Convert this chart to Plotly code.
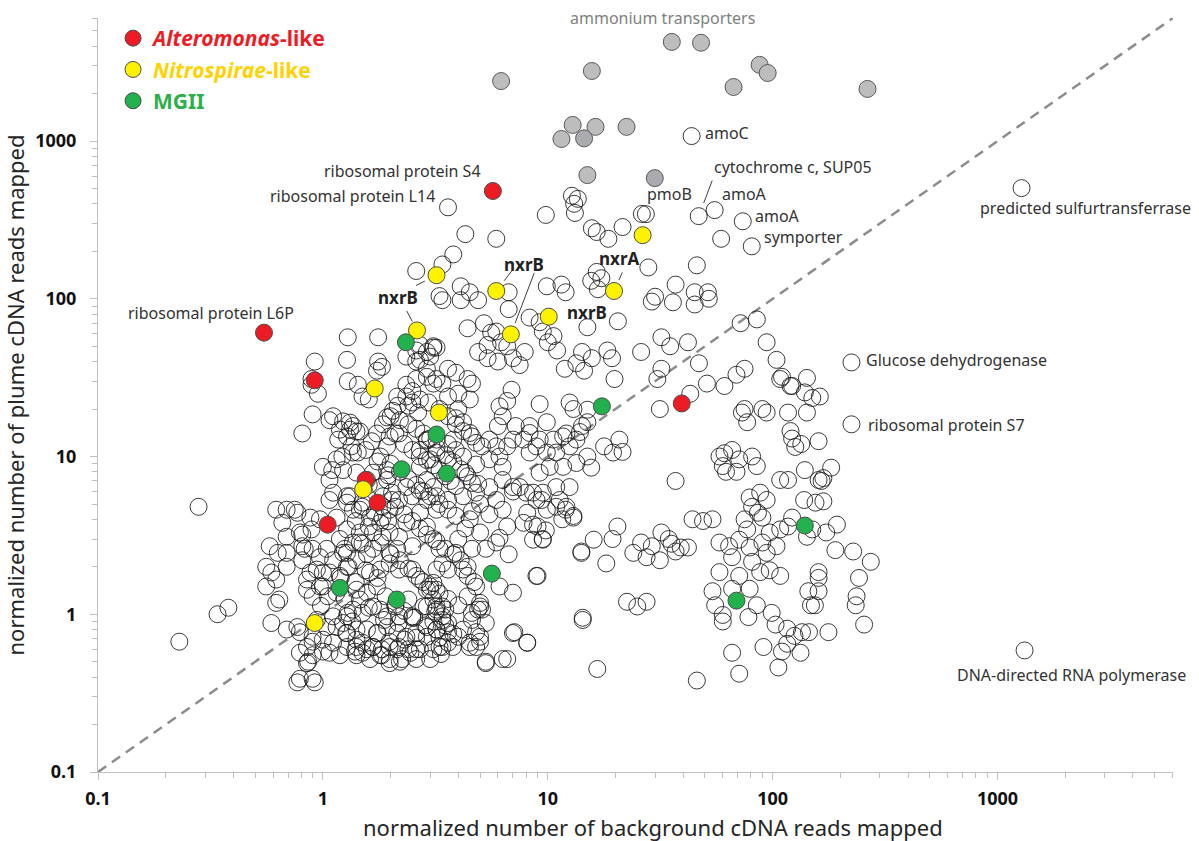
import numpy as np
import plotly.graph_objects as go

# ---------------- data (normalized read counts) ----------------
# open circles: genes not highlighted (background x, plume y)
bg_top = [(12.8,450),(13.6,430),(13.1,400),(9.8,340),(13.2,350),(4.3,257),(5.9,240),(15.7,280),
          (16.5,265),(18.6,240),(21.5,285),(26.2,345),(59,240),(3.8,191),(3.4,165),(2.6,150),
          (16.5,148),(17.3,135),(28,158),(46,163),(37,123),(45,110),(51.5,110),(30,103),(9.9,120),
          (11.5,123),(12,110),(4.1,120),(4.5,110),(3.3,104),(6.7,110),(15.6,130),(16.7,115)]

bg_mid = [(3.4,98),(4.1,98),(4.9,98),(6.7,86),(8.3,76),(9.2,71),(15,66),(9.5,62),(10.6,58),(10,53),
          (11,47),(20.5,72),(29,96),(36,95),(45,92),(52,100),(3.1,50),(2.6,47),(2.7,41),(2.9,36),
          (11.9,36),(14.5,35),(15.7,42),(18.4,47),(19.3,42),(19.8,31),(26,46),(32,57),(35,50),(42,53),
          (30.7,31),(32,36),(47,39),(51,29),(61,28),(69,33),(75,36),(85,74),(72,70),(94,53),(104,41),
          (110,32),(120,28),(43,25),(31.5,20),(75,20),(77,16.5),(90,20),(94,19),(73,19),(117,19),
          (108,31),(122,28),(61,10.5),(66,11),(71,9.6),(81,10),(85,8.7),(122,13),(126,11.5),(108,7.1),
          (37,7),(17.8,11.6),(20.8,12.8),(21.5,10.7),(19.5,10.6),(15.6,8.5),(12.1,14),(13.9,14.3),
          (15,16.5),(13,20),(8.6,5.9),(9.4,5.3),(12.1,4.8),(13,4.2),(11.6,4.0),(11.3,5.3),(8.1,4.4),
          (9,3.6),(9.8,3.4),(8.6,2.97),(9.5,2.97),(19.4,3),(14.1,2.5),(9,1.75),(26,2.85),(29,2.7),
          (32,3.3),(34.5,3),(35.5,2.8),(39,2.65),(42,2.65),(31.5,2.2),(37,2.5),(44,4),(49,3.9),(54,4),
          (58,2.85),(64,2.7),(71,2.97),(79,2.65),(66,2.3),(58,10),(60,8.7),(69,8),(62,8),(79,5.5),
          (88,5.9),(94,5.3),(81,4.8),(86,4.4),(90,4.1),(97,3.3),(108,3.45),(117,3.6),(122,4.1),(75,4),
          (77,3.45),(90,2.85),(94,2.45),(104,2.7),(81,2.15),(120,14.5),(117,7.1),(58,1.85),(71,1.75),
          (88,1.85),(97,1.9),(108,1.75),(66,1.45),(54,1.4),(79,1.45),(18.2,2.1),(24,2.45),(27.5,2.3),
          (16,2.97),(20.4,3.6)]

bg_right = [(142,31.5),(139,25.5),(150,23.5),(162,24),(142,19),(134,12),(160,12.5),(139,8.2),(160,7.1),
            (182,8.5),(165,7),(168,7.3),(138,5.3),(155,5.1),(168,5.2),(193,3.7),(173,3.3),(150,3.45),
            (142,3.1),(190,2.55),(228,2.5),(273,2.15),(242,1.7),(160,1.85),(160,1.7),(144,1.4),(160,1.4),
            (236,1.3),(22.5,1.2),(25,1.12),(27.5,1.2),(55.5,1.14),(60,0.99),(60,0.9),(78,0.96),(85,1.14),
            (99,1.02),(103,0.86),(116,0.81),(125,0.73),(135,0.77),(145,0.77),(177,0.77),(116,0.65),
            (91,0.62),(110,0.58),(133,0.57),(106,0.46),(66,0.57),(71,0.42),(46,0.38),(148,1.14),
            (154,1.14),(234,1.14),(255,0.86)]

bg_lowleft = [(0.23,0.67),(0.34,1.0),(0.38,1.1),(0.59,0.88),(0.62,1.18),(0.79,0.77),(0.94,0.92),
              (0.9,0.67),(0.86,0.5),(0.77,0.37),(0.92,0.37),(1.0,0.58),(0.98,1.13),(1.15,0.83),
              (1.29,1.02),(1.27,0.76),(1.41,0.69),(1.57,0.6),(1.67,0.62),(1.83,0.6),(1.98,0.67),
              (2.14,0.6),(2.31,0.69),(2.17,0.88),(1.87,0.92),(2.1,1.12),(2.5,0.95),(2.8,1.12),(3.16,1.04),
              (3.4,0.92),(3.6,0.77),(3.3,0.71),(3.4,0.62),(2.9,0.83),(2.6,0.71),(2.6,0.6),(1.98,0.52),
              (2.2,0.5),(1.83,0.55),(1.5,0.57),(1.39,0.58),(2.45,0.57),(3.35,0.56),(3.78,0.62),(4.5,0.62),
              (5.0,0.67),(4.8,0.77),(4.9,1.07),(5.3,0.5),(6.3,0.52),(7.1,0.77),(8.1,0.66),(14.3,0.92),
              (16.6,0.45),(1.75,0.76),(3.4,1.12),(4.0,1.14),(5.0,1.12)]

bg_left = [(0.28,4.8),(0.62,4.6),(0.66,3.8),(0.75,4.6),(0.58,2.7),(0.63,2.45),(0.56,2.0),(0.59,1.84),
           (0.62,1.66),(0.56,1.5),(0.81,3.2),(0.89,3.45),(0.97,4.0),(0.89,31),(1.07,17),(1.36,15.6),
           (1.46,14.4),(1.98,13.4),(1.93,17.7),(1.15,9.6),(1.36,10.6),(1.23,8.2),(1.07,7.1),(1.41,7.9),
           (1.57,7.1),(1.93,7.1),(1.32,5.6),(1.36,4.6),(1.5,5.1),(1.84,4.8),(1.84,4.1),(2.03,5.3),
           (0.81,2.7),(0.97,2.3),(1.04,2.6),(1.28,2.45),(1.46,2.85),(1.84,3.1),(1.98,2.45),(0.94,1.92),
           (1.19,1.75),(0.85,1.66),(0.97,1.5),(1.15,1.37)]

bg_dense1 = [(1.29,57),(1.76,57),(0.92,40),(1.28,41),(1.76,40),(1.74,35),(1.83,37),(0.89,28.5),(0.95,25),
             (1.29,30),(1.43,28.5),(1.5,24),(1.6,23),(0.9,18.5),(0.81,14),(1.11,18),(1.23,16.7),
             (1.32,16.4),(1.32,14.8),(1.19,14.8),(1.41,14.4),(1.28,13.4),(1.17,12.8),(1.74,14),(2.1,14),
             (2.18,14),(2.0,18),(2.15,21),(2.14,24),(2.35,24),(2.5,22),(2.7,23),(2.5,26),(2.35,28.5),
             (2.6,31),(2.9,32),(3.1,29),(2.9,46),(3.2,49),(3.0,43),(2.6,40),(2.35,43),(2.7,51),(1.0,8.6),
             (1.1,8.2),(1.22,10),(1.43,10.6),(1.34,11.6),(1.8,10),(1.93,11.6),(1.67,7.9),(1.93,8.2),
             (2.7,8.6),(3.0,9.6),(3.2,10.6),(2.9,12.8),(3.2,12.8),(2.7,11),(2.9,7.1),(3.1,6.4),(2.7,6.1),
             (2.35,6.4),(1.11,5.9),(1.28,5.6),(1.8,6.4),(2.03,5.9)]

bg_dense2 = [(6.9,26.5),(6.6,22.5),(6.1,20.8),(6.3,18),(6.0,15.6),(7.2,15.6),(8.3,15.6),(9.2,21.5),
             (9.9,16.5),(12.5,22),(15,19.8),(11.7,13.4),(10.6,12.8),(9.2,12.8),(8.3,14.1),(7.8,12.8),
             (8.9,11.6),(8.3,10.6),(9.9,10.6),(10.9,10.6),(12.5,11.6),(13.4,12.8),(14.2,15.6),(15,10),
             (7.0,12.8),(6.6,11.6),(5.9,11.6),(5.5,12.8),(5.1,11.6),(4.8,12.2),(4.6,13.4),(6.1,10),
             (6.3,8.6),(5.5,9.6),(4.8,8.9),(4.3,7.9),(4.6,6.8),(5.5,6.4),(6.3,7.1),(7.0,6.4),(7.5,6.4),
             (8.0,5.9),(9.2,7.9),(10.2,8.6),(11.7,8.6),(13.4,9.1),(12.5,6.4),(9.5,5.9),(10.9,6.4),
             (3.1,49),(3.2,31),(3.4,29),(3.6,36),(3.9,34),(3.6,24),(4.0,25),(4.4,31),(4.6,29),(4.5,23),
             (4.0,20),(3.9,17.5),(4.2,16.5),(4.5,14.1),(3.6,12),(3.9,11),(3.6,9.6),(4.2,10),
             (4.4,65),(5.2,70),(5.6,61),(5.9,62),(6.2,53),(6.6,50),(5.4,51),(4.9,46),(5.4,42),(6.0,40),
             (7.0,42),(7.5,38),(7.9,46),(13.4,39),(14.2,46)]

bg_dense3 = [(0.69,4.6),(0.77,4.4),(0.88,4.1),(0.79,3.3),(0.69,3.1),(0.83,2.6),(0.9,2.6),(0.81,2.2),
             (0.69,2.45),(0.69,2.0),(0.64,1.24),(0.69,0.8),(0.77,0.83),(0.88,1.84),(0.85,1.43),(0.9,1.29),
             (1.0,1.5),(1.0,1.84),(1.23,2.45),(1.11,2.2),(1.07,1.84),(1.28,2.0),(1.41,2.2),(1.57,2.4),
             (1.67,2.6),(1.8,2.85),(1.41,1.43),(1.46,1.24),(1.57,1.37),(1.74,1.5),(1.62,1.84),(1.8,1.92),
             (1.98,2.1),(2.18,1.92),(2.5,1.92),(2.7,1.66),(2.9,1.43),(3.2,1.43),(3.2,1.12),(2.9,1.12),
             (2.4,1.24),(2.5,0.97),(2.18,0.97),(1.93,0.97),(1.8,1.07),(1.67,1.12),(1.5,1.02),(1.36,1.07),
             (1.28,0.97),(1.23,0.88),(1.11,0.97),(1.04,0.83),(0.9,0.72),(0.85,0.62),(0.9,0.55),(0.79,0.57),
             (0.85,0.49),(0.79,0.39),(0.9,0.39),(1.0,0.69),(1.11,0.66),(1.28,0.76),(1.41,0.8),(1.57,0.8),
             (1.74,0.76),(1.93,0.83),(2.14,0.76),(2.35,0.72),(2.6,0.76),(2.9,0.72),(3.2,0.8),(1.28,0.62),
             (1.41,0.62),(1.5,0.66),(1.67,0.62),(1.8,0.55),(1.98,0.62),(2.18,0.62),(2.4,0.6),(2.7,0.6),
             (3.1,0.6),(1.07,0.57),(1.19,0.55),(1.41,0.55),(1.62,0.52),(1.98,0.49),(2.25,0.52),(2.6,0.52),
             (3.0,0.52),(1.07,5.3),(1.28,5.1),(1.46,4.6),(1.62,4.1),(1.8,3.8),(1.98,3.3),(2.18,3.1),
             (2.35,3.8),(2.7,4.4),(2.9,3.6),(3.1,3.0),(2.5,2.7),(2.14,2.6),(1.98,4.6),(2.18,5.3),(2.5,5.6),
             (2.9,5.3),(3.2,4.6),(1.15,4.1),(1.28,3.45),(1.46,3.3),(1.36,2.85),(1.67,3.3),(1.19,3.0)]

bg_dense4 = [(3.2,5.6),(3.6,5.3),(4.2,5.6),(4.8,5.9),(5.9,5.3),(6.3,4.6),(7.0,6.0),(8.9,5.3),(9.9,4.6),
             (10.9,4.8),(12,4.6),(13,4.1),(7.8,3.8),(8.6,3.7),(9.5,3.0),(6.6,3.6),(5.0,3.3),(4.5,4.0),
             (3.3,2.6),(3.9,2.45),(4.6,2.6),(5.3,2.6),(5.9,2.85),(6.7,2.4),(6.1,3.05),(4.2,1.92),(4.8,1.5),
             (3.6,1.92),(3.2,1.92),(3.4,2.1),(4.4,1.75),(6.1,1.5),(7.0,1.37),(8.9,1.75),(14.1,2.45),
             (14.3,0.95),(5.0,1.18),(4.6,1.02),(5.1,1.07),(4.6,0.92),(5.3,0.88),(5.0,0.72),(4.5,0.66),
             (4.0,0.72),(3.6,0.88),(3.5,1.07),(3.2,1.07),(3.4,0.97),(3.2,0.8),(3.3,0.62),(3.6,0.66),
             (4.8,0.62),(7.0,0.76),(8.1,0.66),(5.3,0.49),(6.6,0.52),(3.1,1.24),(3.0,1.43),(3.1,1.58)]

bg_core = [(2.2,17),(2.4,16),(2.6,15),(2.8,14),(3.0,13),(2.3,12),(2.5,11),(2.7,10),(2.9,9.5),(3.1,8.8),
           (3.3,8.2),(3.5,7.5),(3.7,7.0),(3.9,6.5),(2.0,9),(2.2,8),(2.4,7.2),(2.6,6.6),(2.8,6.0),(3.0,5.6),
           (3.3,5.0),(3.6,4.6),(3.9,4.2),(2.1,4.8),(2.3,4.3),(2.5,3.9),(2.7,3.5),(2.9,3.2),(3.2,2.9),
           (3.5,2.6),(3.8,2.4),(4.1,2.2),(4.4,2.0),(2.0,2.4),(2.2,2.2),(2.4,1.95),(2.6,1.75),(2.8,1.6),
           (3.0,1.5),(3.3,1.35),(3.6,1.25),(1.9,1.3),(2.1,1.15),(2.3,1.05),(2.55,0.95),(2.85,0.85),
           (3.1,0.9),(3.5,0.85),(3.8,0.75),(4.2,0.8),(4.4,1.3),(4.7,1.6),(4.0,3.0),(4.3,3.5),(4.6,4.5),
           (5.0,5.0),(5.5,4.3),(4.9,6.7),(4.4,7.5),(4.1,8.3),(3.8,9.2),(3.5,10.2),(3.2,11.4),(2.9,12.6),
           (3.8,12.8),(4.2,14.5),(3.9,16),(3.6,18),(3.3,20),(2.95,22),(2.65,19),(2.4,21),(2.05,19.5),
           (1.85,16),(1.65,12.5),(1.55,11),(1.75,9.3),(1.95,7.6),(1.6,6.6),(1.85,5.6),(1.5,4.8),(1.7,4.4),
           (1.95,3.9),(1.6,3.6),(1.4,3.9),(1.5,2.8),(1.25,2.6),(1.3,2.0),(1.55,1.9),(1.75,1.7),(1.2,1.7),
           (1.4,1.6),(1.05,1.3),(1.25,1.25),(1.6,1.1),(1.35,0.9)]

# labelled open circles
lab_names = ["ribosomal protein L14", "amoC", "cytochrome c, SUP05", "amoA", "amoA", "symporter",
             "pmoB", "predicted sulfurtransferrase", "Glucose dehydrogenase", "ribosomal protein S7",
             "DNA-directed RNA polymerase"]
lab_x = [3.6, 43.6, 46.9, 55.2, 73.6, 80.7, 27.3, 1278, 224, 224, 1318]
lab_y = [380, 1075, 334, 365, 310, 215, 344, 503, 39.5, 16, 0.59]

# ammonium transporters (grey filled)
amt_x = [6.2, 15.7, 35.6, 48, 87.5, 95, 67, 264, 12.9, 16.3, 22.4, 11.5, 14.5, 15, 29.9]
amt_y = [2400, 2780, 4250, 4200, 3040, 2700, 2200, 2140, 1265, 1230, 1230, 1030, 1040, 608, 582]
amt_fill = ["#BDBDBD"] * 12 + ["#A9ABAE", "#BDBDBD", "#A9ABAE"]

# Alteromonas-like (red)
alt_names = ["ribosomal protein S4", "ribosomal protein L6P", "", "", "", "", ""]
alt_x = [5.7, 0.547, 0.92, 1.55, 1.75, 1.05, 39.4]
alt_y = [482, 61, 30.4, 7.1, 5.1, 3.7, 21.7]

# Nitrospirae-like (yellow)
nit_names = ["", "nxrA", "nxrB", "", "nxrB", "", "nxrB", "", "", "", ""]
nit_x = [26.4, 19.7, 5.9, 3.2, 10.1, 6.85, 2.62, 1.70, 3.28, 1.51, 0.92]
nit_y = [253, 112, 112, 141, 77, 59.5, 63, 27, 19, 6.2, 0.88]

# MGII (green)
mg_x = [2.34, 3.2, 3.56, 2.24, 5.64, 1.19, 2.13, 17.4, 139, 69]
mg_y = [53, 13.8, 7.8, 8.3, 1.81, 1.47, 1.24, 20.8, 3.65, 1.22]

tick_vals = [0.1, 1, 10, 100, 1000]
tick_text = ["0.1", "1", "10", "100", "1000"]
LOG_RANGE = [-1, 3.78]

# ---------------- figure ----------------
bg_all = bg_top + bg_mid + bg_right + bg_lowleft + bg_left + bg_dense1 + bg_dense2 + bg_dense3 + bg_dense4 + bg_core
bg_x = [p[0] for p in bg_all] + lab_x
bg_y = [p[1] for p in bg_all] + lab_y

FONT = "Noto Sans"
fig = go.Figure()

# 1:1 line
lim = [10 ** LOG_RANGE[0], 10 ** LOG_RANGE[1]]
fig.add_trace(go.Scatter(x=lim, y=lim, mode="lines", showlegend=False, hoverinfo="skip",
                         line=dict(color="#8C8C8C", width=2.5, dash="10px,7px")))

fig.add_trace(go.Scatter(x=bg_x, y=bg_y, mode="markers", showlegend=False,
                         marker=dict(symbol="circle-open", size=17, color="rgba(25,25,25,0.85)",
                                     line=dict(width=1))))

fig.add_trace(go.Scatter(x=amt_x, y=amt_y, mode="markers", showlegend=False,
                         marker=dict(size=17, color=amt_fill, line=dict(color="#5A5A5A", width=1))))

def leg(txt, col, it=None):
    if it:
        return f"<span style='color:{col}'><b><i>{it}</i>{txt}</b></span>"
    return f"<span style='color:{col}'><b>{txt}</b></span>"

fig.add_trace(go.Scatter(x=alt_x, y=alt_y, mode="markers", legendgroup="a",
                         name=leg("-like", "#ED1C24", "Alteromonas"),
                         marker=dict(size=17, color="#ED1C24", line=dict(color="#4D4D4D", width=1))))
fig.add_trace(go.Scatter(x=nit_x, y=nit_y, mode="markers", legendgroup="b",
                         name=leg("-like", "#FFD200", "Nitrospirae"),
                         marker=dict(size=17, color="#FFF200", line=dict(color="#4D4D4D", width=1))))
fig.add_trace(go.Scatter(x=mg_x, y=mg_y, mode="markers", legendgroup="c",
                         name=leg("MGII", "#2DB04A"),
                         marker=dict(size=17, color="#22B14C", line=dict(color="#4D4D4D", width=1))))

ann = []
TXT = dict(family=FONT, size=16, color="#333333")
BTXT = dict(family=FONT, size=17, color="#222222", weight="bold")

def lbl(text, x, y, xs, ys, anchor="left", font=TXT):
    ann.append(dict(x=np.log10(x), y=np.log10(y), text=text, showarrow=False, xanchor=anchor,
                    yanchor="middle", xshift=xs, yshift=ys, font=font))

def line(x, y, ax, ay, so):
    ann.append(dict(x=np.log10(x), y=np.log10(y), text="", showarrow=True, arrowhead=0,
                    arrowwidth=1, arrowcolor="#404040", ax=ax, ay=ay, standoff=so))

# labels for open circles
shifts = [(-11, 11, "right"), (11, 3, "left"), (13, 49, "left"), (5, 16, "left"), (10, 5, "left"),
          (10, 9, "left"), (-1, 20, "left"), (-44, -20, "left"), (13, 2, "left"), (15, -1, "left"),
          (-70, -25, "left")]
for n, x, y, (xs, ys, an) in zip(lab_names, lab_x, lab_y, shifts):
    lbl(n, x, y, xs, ys, an)
line(lab_x[2], lab_y[2], 14, -37, 14)

# red labels
lbl(alt_names[0], alt_x[0], alt_y[0], -10, 20, "right")
lbl(alt_names[1], alt_x[1], alt_y[1], -53, 20, "center")

# yellow labels
lbl("nxrA", nit_x[1], nit_y[1], 5, 33, "center", BTXT)
lbl("nxrB", nit_x[2], nit_y[2], 28, 27, "center", BTXT)
lbl("nxrB", nit_x[4], nit_y[4], 16, 4, "left", BTXT)
lbl("nxrB", nit_x[6], nit_y[6], -19, 33, "center", BTXT)
line(nit_x[3], nit_y[3], -22, 11, 13)
line(nit_x[6], nit_y[6], -11, -21, 10)
line(nit_x[2], nit_y[2], 17, -22, 13)
line(nit_x[5], nit_y[5], 24, -63, 12)
line(nit_x[1], nit_y[1], 9, -20, 12)

ann.append(dict(x=np.log10(32.4), y=1.0, yref="paper", text="ammonium transporters", showarrow=False,
                xanchor="center", yanchor="middle", font=dict(family=FONT, size=16, color="#7F7F7F")))

# x-axis title (as annotation so it can sit slightly right of centre, like the original)
ann.append(dict(x=0.516, xref="paper", y=0, yref="paper", yshift=-55, xanchor="center", yanchor="middle",
                text="normalized number of background cDNA reads mapped", showarrow=False, borderpad=0,
                font=dict(family=FONT, size=22, color="#262626")))

minor_vals = [k * 10.0 ** e for e in range(-1, 4) for k in range(2, 10)]

axis_common = dict(type="log", range=LOG_RANGE, showline=True, linecolor="#BFBFBF", linewidth=1,
                   ticks="outside", ticklen=7, tickcolor="#BFBFBF", tickvals=tick_vals, ticktext=tick_text,
                   showgrid=False, zeroline=False,
                   tickfont=dict(family=FONT, size=18, color="#111111", weight="bold"),
                   minor=dict(ticks="outside", ticklen=5, tickcolor="#BFBFBF", tickvals=minor_vals,
                              showgrid=False))

fig.update_layout(
    width=1199, height=841,
    margin=dict(l=98, r=26, t=18, b=69),
    plot_bgcolor="white", paper_bgcolor="white",
    xaxis=dict(**axis_common, ticklabelstandoff=3),
    yaxis=dict(**axis_common, ticklabelstandoff=10,
               title=dict(text="normalized number of plume cDNA reads mapped", standoff=6,
                          font=dict(family=FONT, size=22, color="#262626"))),
    legend=dict(x=0.014, y=1.0, xanchor="left", yanchor="top", bgcolor="rgba(0,0,0,0)",
                font=dict(family=FONT, size=21), itemsizing="trace", tracegroupgap=1),
    annotations=ann,
    showlegend=True,
)

fig.write_html("out.html")
